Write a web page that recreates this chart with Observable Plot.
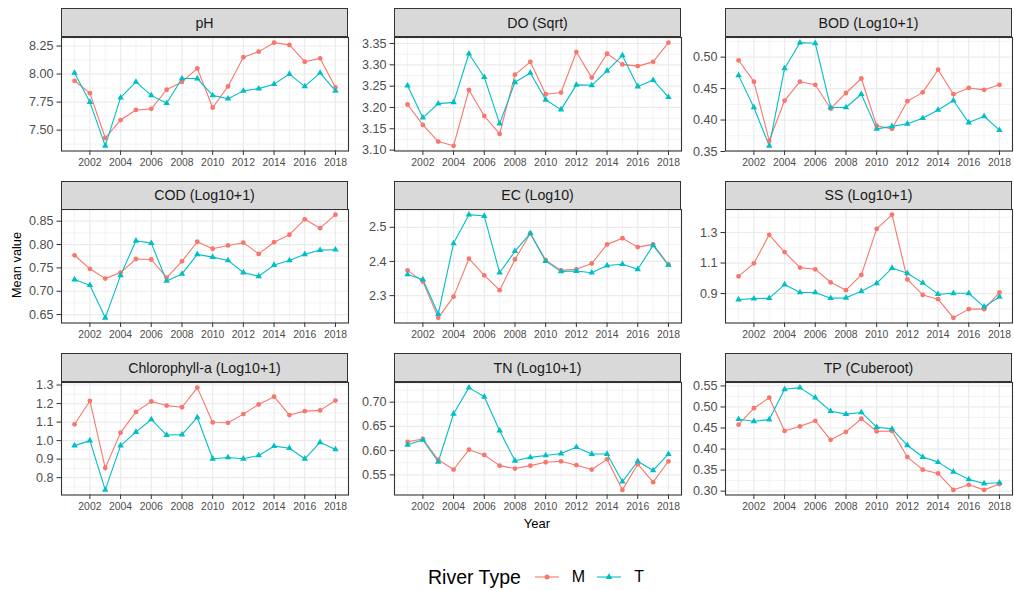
<!DOCTYPE html>
<html><head><meta charset="utf-8">
<script src="https://cdn.jsdelivr.net/npm/d3@7"></script>
<script src="https://cdn.jsdelivr.net/npm/@observablehq/plot@0.6"></script>
<style>
body{margin:0;background:#fff;font-family:"Liberation Sans",Arial,Helvetica,sans-serif;}
#root{position:relative;width:1014px;height:590px;overflow:hidden;background:#fff;}
.strip{position:absolute;box-sizing:border-box;background:#D9D9D9;border:1.1px solid #333333;display:flex;align-items:center;justify-content:center;font-size:14.2px;color:#1A1A1A;}
.abs{position:absolute;white-space:nowrap;color:#000;}
svg{overflow:visible;}
</style></head><body><div id="root"></div>
<script>
// ---------------- data ----------------
const years = [2001,2002,2003,2004,2005,2006,2007,2008,2009,2010,2011,2012,2013,2014,2015,2016,2017,2018];
const riverTypes = ["M", "T"];
const typeColors = ["#F8766D", "#00BFC4"];
const typeSymbols = ["circle", "triangle"];

const panelTitles = ["pH", "DO (Sqrt)", "BOD (Log10+1)", "COD (Log10+1)", "EC (Log10)", "SS (Log10+1)", "Chlorophyll-a (Log10+1)", "TN (Log10+1)", "TP (Cuberoot)"];

const pH_M = [7.94,7.83,7.43,7.59,7.68,7.69,7.86,7.93,8.05,7.70,7.89,8.15,8.20,8.28,8.26,8.11,8.14,7.88];
const pH_T = [8.01,7.75,7.36,7.79,7.93,7.81,7.74,7.96,7.96,7.81,7.78,7.85,7.87,7.91,8.00,7.89,8.01,7.85];
const DO_M = [3.207,3.159,3.120,3.110,3.241,3.180,3.138,3.277,3.307,3.231,3.235,3.330,3.270,3.326,3.301,3.297,3.307,3.352];
const DO_T = [3.251,3.176,3.209,3.212,3.326,3.271,3.162,3.259,3.281,3.218,3.195,3.253,3.252,3.286,3.322,3.249,3.264,3.224];
const BOD_M = [0.495,0.461,0.367,0.431,0.461,0.456,0.418,0.443,0.466,0.391,0.386,0.430,0.444,0.480,0.441,0.451,0.448,0.456];
const BOD_T = [0.471,0.420,0.359,0.482,0.523,0.522,0.420,0.420,0.441,0.386,0.390,0.394,0.403,0.416,0.431,0.396,0.406,0.384];
const COD_M = [0.777,0.748,0.727,0.740,0.769,0.768,0.729,0.764,0.806,0.791,0.798,0.804,0.780,0.805,0.821,0.854,0.835,0.864];
const COD_T = [0.725,0.713,0.643,0.734,0.808,0.803,0.722,0.737,0.779,0.773,0.766,0.740,0.732,0.756,0.766,0.779,0.788,0.789];
const EC_M = [2.374,2.341,2.235,2.297,2.408,2.359,2.316,2.406,2.482,2.404,2.374,2.377,2.394,2.450,2.468,2.442,2.450,2.391];
const EC_T = [2.362,2.347,2.246,2.453,2.537,2.533,2.367,2.430,2.482,2.401,2.371,2.372,2.367,2.388,2.392,2.377,2.447,2.389];
const SS_M = [1.013,1.098,1.285,1.172,1.070,1.059,0.974,0.922,1.022,1.324,1.417,0.993,0.891,0.863,0.741,0.798,0.798,0.907];
const SS_T = [0.861,0.867,0.870,0.959,0.907,0.907,0.870,0.872,0.915,0.967,1.067,1.033,0.970,0.896,0.902,0.902,0.813,0.878];
const Chl_M = [1.088,1.214,0.852,1.043,1.155,1.211,1.189,1.180,1.286,1.098,1.096,1.143,1.195,1.237,1.138,1.159,1.163,1.216];
const Chl_T = [0.973,1.000,0.734,0.973,1.046,1.114,1.030,1.032,1.125,0.902,0.909,0.902,0.920,0.970,0.959,0.902,0.991,0.952];
const TN_M = [0.618,0.624,0.581,0.561,0.602,0.591,0.569,0.563,0.569,0.576,0.578,0.570,0.561,0.582,0.519,0.572,0.535,0.578];
const TN_T = [0.612,0.622,0.577,0.676,0.730,0.711,0.641,0.579,0.586,0.590,0.594,0.607,0.593,0.593,0.536,0.578,0.559,0.593];
const TP_M = [0.458,0.497,0.522,0.443,0.454,0.467,0.422,0.441,0.472,0.442,0.443,0.381,0.351,0.342,0.303,0.315,0.303,0.317];
const TP_T = [0.471,0.466,0.470,0.542,0.546,0.522,0.490,0.483,0.487,0.452,0.448,0.409,0.381,0.369,0.346,0.328,0.318,0.320];

const xTicks = [2002,2004,2006,2008,2010,2012,2014,2016,2018];
const xMinorTicks = [2001,2003,2005,2007,2009,2011,2013,2015,2017];
const pH_ticks = [7.50,7.75,8.00,8.25];
const DO_ticks = [3.10,3.15,3.20,3.25,3.30,3.35];
const BOD_ticks = [0.35,0.40,0.45,0.50];
const COD_ticks = [0.65,0.70,0.75,0.80,0.85];
const EC_ticks = [2.3,2.4,2.5];
const SS_ticks = [0.9,1.1,1.3];
const Chl_ticks = [0.8,0.9,1.0,1.1,1.2,1.3];
const TN_ticks = [0.55,0.60,0.65,0.70];
const TP_ticks = [0.30,0.35,0.40,0.45,0.50,0.55];
const tickFormats = [".2f",".2f",".2f",".2f",".1f",".1f",".1f",".2f",".2f"];

const panelSeries = [[pH_M,pH_T],[DO_M,DO_T],[BOD_M,BOD_T],[COD_M,COD_T],[EC_M,EC_T],[SS_M,SS_T],[Chl_M,Chl_T],[TN_M,TN_T],[TP_M,TP_T]];
const panelTicks = [pH_ticks,DO_ticks,BOD_ticks,COD_ticks,EC_ticks,SS_ticks,Chl_ticks,TN_ticks,TP_ticks];

// ---------------- layout ----------------
const colLeft = [61, 394, 725];
const panelW = 287;
const stripTop = [8, 180.5, 353];
const stripH = 28.5;
const plotBottom = [150, 322.5, 494];
const ML = 60, MB = 24;
const gridCol = "#EBEBEB";
const root = document.getElementById("root");

function expand(ext) { const r = ext[1] - ext[0]; return [ext[0] - 0.05 * r, ext[1] + 0.05 * r]; }
function minorOf(t, dom) {
  const step = t[1] - t[0];
  const out = [t[0] - step / 2];
  for (let i = 0; i < t.length; i++) out.push(t[i] + step / 2);
  return out.filter(v => v >= dom[0] && v <= dom[1]);
}
const xDomain = expand([years[0], years[years.length - 1]]);

panelTitles.forEach((title, i) => {
  const row = Math.floor(i / 3), col = i % 3;
  const [m, t] = panelSeries[i];
  const data = [];
  years.forEach((y, k) => { data.push({year: y, value: m[k], type: riverTypes[0]}); });
  years.forEach((y, k) => { data.push({year: y, value: t[k], type: riverTypes[1]}); });
  const yDom = expand(d3.extent(data, d => d.value));
  const ticks = panelTicks[i];
  const top = stripTop[row] + stripH;
  const ph = plotBottom[row] - top;

  const chart = Plot.plot({
    width: ML + panelW, height: ph + MB,
    marginLeft: ML, marginRight: 0, marginTop: 0, marginBottom: MB,
    x: {domain: xDomain},
    y: {domain: yDom},
    color: {domain: riverTypes, range: typeColors},
    symbol: {domain: riverTypes, range: typeSymbols},
    style: {background: "transparent", fontFamily: '"Liberation Sans", Arial, sans-serif', overflow: "visible"},
    marks: [
      Plot.ruleX(xMinorTicks, {x: d => d, stroke: gridCol, strokeWidth: 0.6}),
      Plot.ruleY(minorOf(ticks, yDom), {y: d => d, stroke: gridCol, strokeWidth: 0.6}),
      Plot.ruleX(xTicks, {x: d => d, stroke: gridCol, strokeWidth: 1.2}),
      Plot.ruleY(ticks, {y: d => d, stroke: gridCol, strokeWidth: 1.2}),
      Plot.line(data, {x: "year", y: "value", stroke: "type", z: "type", strokeWidth: 1.1}),
      Plot.dot(data, {x: "year", y: "value", fill: "type", symbol: "type", r: 2.4, stroke: "none"}),
      Plot.frame({stroke: "#333333", strokeWidth: 1.1}),
      Plot.axisX({ticks: xTicks, tickFormat: d => String(d), tickSize: 4.5, tickPadding: 3, fontSize: 10.4, fill: "#4D4D4D", stroke: "#333333", label: null}),
      Plot.axisY({ticks: ticks, tickFormat: d3.format(tickFormats[i]), tickSize: 4.5, tickPadding: 3.5, fontSize: 12.6, fill: "#4D4D4D", stroke: "#333333", label: null})
    ]
  });
  chart.style.position = "absolute";
  chart.style.left = (colLeft[col] - ML) + "px";
  chart.style.top = top + "px";
  root.appendChild(chart);

  const strip = document.createElement("div");
  strip.className = "strip";
  strip.style.left = colLeft[col] + "px";
  strip.style.top = stripTop[row] + "px";
  strip.style.width = panelW + "px";
  strip.style.height = (stripH + 0.5) + "px";
  strip.textContent = title;
  root.appendChild(strip);
});

// axis titles
function addText(txt, x, y, size, extra) {
  const d = document.createElement("div");
  d.className = "abs";
  d.textContent = txt;
  d.style.fontSize = size + "px";
  d.style.left = x + "px";
  d.style.top = y + "px";
  d.style.transform = "translate(-50%,-50%)" + (extra || "");
  root.appendChild(d);
}
addText("Year", 537, 523, 13);
addText("Mean value", 16, 265, 12.8, " rotate(-90deg)");

// legend
const leg = document.createElement("div");
leg.className = "abs";
leg.style.left = "428px";
leg.style.top = "565px";
leg.style.display = "flex";
leg.style.alignItems = "center";
leg.style.height = "24px";
let html = '<span style="font-size:19.5px;margin-right:14px">River Type</span>';
riverTypes.forEach((t, k) => {
  const sym = k === 0
    ? `<circle cx="12" cy="12" r="2.5" fill="${typeColors[k]}"/>`
    : `<path d="${d3.symbol(d3.symbolTriangle, Math.PI * 2.5 * 2.5)()}" transform="translate(12,12)" fill="${typeColors[k]}"/>`;
  html += `<svg width="24" height="24" style="margin-right:13px"><line x1="0" x2="24" y1="12" y2="12" stroke="${typeColors[k]}" stroke-width="1.1"/>${sym}</svg>`;
  html += `<span style="font-size:16px;margin-right:${k === 0 ? 12 : 0}px">${t}</span>`;
});
leg.innerHTML = html;
root.appendChild(leg);
</script>
</body></html>
